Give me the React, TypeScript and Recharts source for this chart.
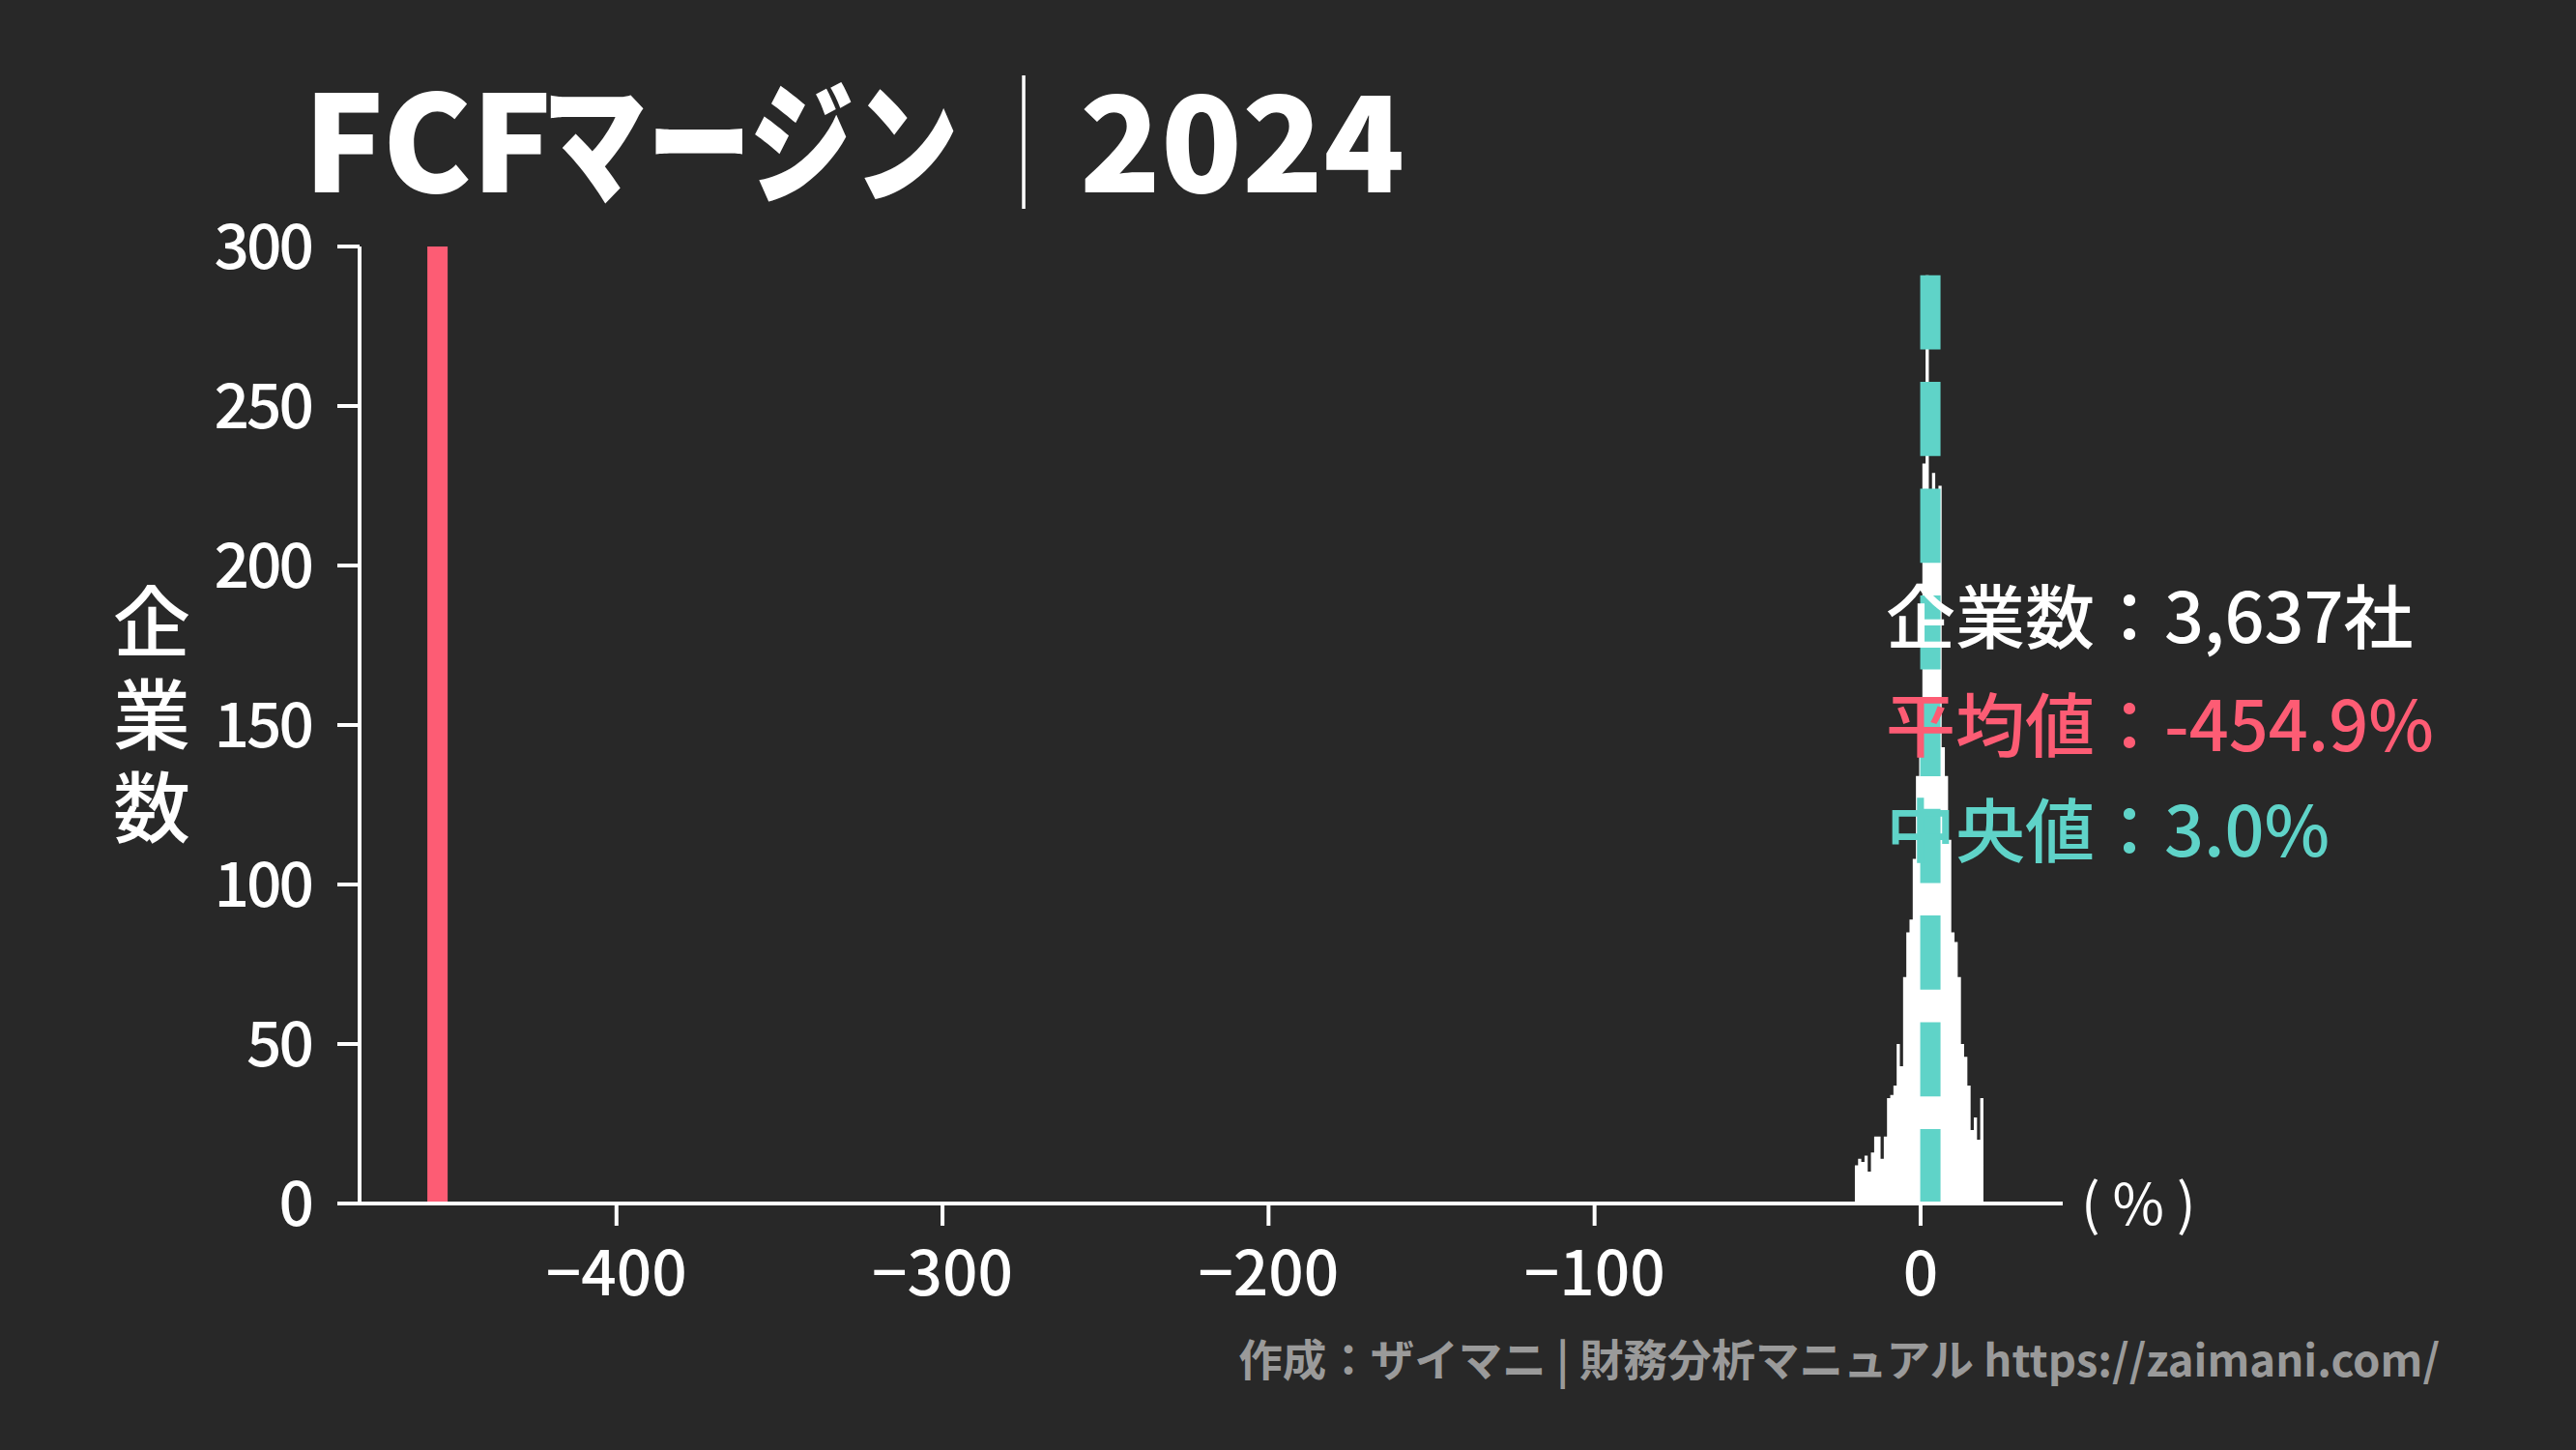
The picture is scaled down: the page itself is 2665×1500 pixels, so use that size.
import React from "react";
import { ComposedChart, Area, XAxis, YAxis, ReferenceLine } from "recharts";

// ---- data ----
const binEdges = [
  -20.16, -19.17, -18.19, -17.2, -16.22, -15.23, -14.24, -13.26, -12.27, -11.29,
  -10.3, -9.31, -8.33, -7.34, -6.36, -5.37, -4.38, -3.4, -2.41, -1.43,
  -0.44, 0.55, 1.53, 2.52, 3.5, 4.49, 5.48, 6.46, 7.45, 8.43,
  9.42, 10.41, 11.39, 12.38, 13.36, 14.35, 15.34, 16.32, 17.31, 18.29, 19.28,
];
const binCounts = [
  12, 14, 13, 15, 10, 16, 21, 21, 14, 21,
  33, 34, 37, 50, 43, 71, 85, 89, 108, 134,
  150, 232, 291, 212, 229, 212, 225, 143, 134, 114,
  85, 82, 71, 50, 46, 37, 23, 27, 20, 33,
];
const xTicks = [-400, -300, -200, -100, 0];
const yTicks = [0, 50, 100, 150, 200, 250, 300];
const companyCount = "3,637";
const meanValue = -454.9;
const medianValue = 3.0;
const titleParts = ["FCF", "マージン", "｜", "2024"];
const yLabel = "企業数";
const footerText = "作成：ザイマニ | 財務分析マニュアル https://zaimani.com/";

const histData = binEdges.map((x, i) => ({
  x,
  count: i < binCounts.length ? binCounts[i] : 0,
}));
const maxCount = Math.max(...binCounts);

const BG = "#282828";
const RED = "#fd5c74";
const TEAL = "#5fd3c8";
const FONT = "'Noto Sans CJK JP', 'Noto Sans', sans-serif";

const fmtX = (v: number) => (v < 0 ? "\u2212" + Math.abs(v) : String(v));

export default function App() {
  return (
    <div
      style={{
        position: "absolute",
        left: 0,
        top: 0,
        width: 2665,
        height: 1500,
        background: BG,
        overflow: "hidden",
      }}
    >
      <ComposedChart
        width={2665}
        height={1500}
        data={histData}
        margin={{ top: 255, right: 531, left: 172, bottom: 155 }}
      >
        <XAxis
          dataKey="x"
          type="number"
          domain={[-478.8, 43.6]}
          allowDataOverflow
          ticks={xTicks}
          tickFormatter={fmtX}
          height={100}
          tickSize={23}
          tickMargin={27}
          axisLine={{ stroke: "#ffffff", strokeWidth: 4 }}
          tickLine={{ stroke: "#ffffff", strokeWidth: 4 }}
          tick={{ fill: "#ffffff", fontSize: 64, fontWeight: 500, fontFamily: FONT }}
        />
        <YAxis
          type="number"
          domain={[0, 300]}
          allowDataOverflow
          ticks={yTicks}
          width={200}
          tickSize={23}
          tickMargin={27}
          axisLine={{ stroke: "#ffffff", strokeWidth: 4 }}
          tickLine={{ stroke: "#ffffff", strokeWidth: 4 }}
          tick={{
            fill: "#ffffff",
            fontSize: 64,
            fontWeight: 500,
            fontFamily: FONT,
            letterSpacing: -3,
          }}
        />
        <Area
          dataKey="count"
          type="stepAfter"
          fill="#ffffff"
          fillOpacity={1}
          stroke="none"
          isAnimationActive={false}
        />
        <ReferenceLine x={meanValue} stroke={RED} strokeWidth={21} />
        <ReferenceLine
          segment={[
            { x: medianValue, y: maxCount },
            { x: medianValue, y: 0 },
          ]}
          stroke={TEAL}
          strokeWidth={21}
          strokeDasharray="76.7 33.7"
        />
      </ComposedChart>
      <svg
        width={2665}
        height={1500}
        style={{ position: "absolute", left: 0, top: 0, pointerEvents: "none" }}
      >
        <g fill="#ffffff" fontSize={138} fontWeight={900} fontFamily={FONT}>
          <text x={314} y={199}>{titleParts[0]}</text>
          <text transform="translate(561,199) scale(0.784,1)">{titleParts[1]}</text>
          <text transform="translate(1059,199) scale(0.66,1)" textAnchor="middle" fontWeight={300}>
            {titleParts[2]}
          </text>
          <text x={1117} y={199}>{titleParts[3]}</text>
        </g>
        <text
          x={157}
          y={603}
          fill="#ffffff"
          fontSize={80}
          fontWeight={500}
          fontFamily={FONT}
          style={{ writingMode: "vertical-rl", letterSpacing: "16px" }}
        >
          {yLabel}
        </text>
        <text x={2153} y={1267} fill="#ffffff" fontSize={58} fontFamily={FONT} xmlSpace="preserve">
          ( % )
        </text>
        <text x={1951} y={665} fill="#ffffff" fontSize={72} fontWeight={500} fontFamily={FONT}>
          {"企業数：" + companyCount + "社"}
        </text>
        <text x={1951} y={777} fill={RED} fontSize={72} fontWeight={500} fontFamily={FONT}>
          {"平均値：" + meanValue.toFixed(1) + "%"}
        </text>
        <text x={1951} y={886} fill={TEAL} fontSize={72} fontWeight={500} fontFamily={FONT}>
          {"中央値：" + medianValue.toFixed(1) + "%"}
        </text>
        <text
          x={2524}
          y={1424}
          fill="#9a9a9a"
          fontSize={45.5}
          fontWeight={700}
          fontFamily={FONT}
          textAnchor="end"
        >
          {footerText}
        </text>
      </svg>
    </div>
  );
}
